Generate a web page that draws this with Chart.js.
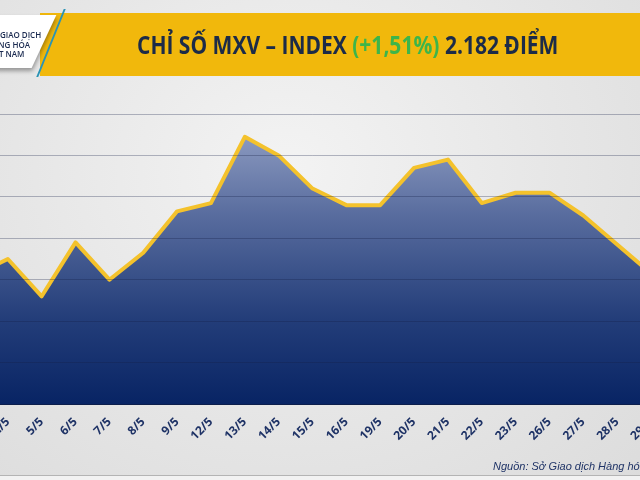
<!DOCTYPE html>
<html lang="vi">
<head>
<meta charset="UTF-8">
<title>Chỉ số MXV - Index</title>
<script src="https://cdn.jsdelivr.net/npm/chart.js"></script>
<style>
    html, body {
        margin: 0;
        padding: 0;
        width: 640px;
        height: 480px;
        overflow: hidden;
    }
    body {
        position: relative;
        background: radial-gradient(ellipse at 45% 35%, #f3f3f3 0%, #e6e6e6 55%, #dcdcdc 100%);
        font-family: "Open Sans", "Liberation Sans", sans-serif;
    }
    #chart-wrap {
        position: absolute;
        left: -26px;
        top: 0;
        width: 677px;
        height: 480px;
    }
    #header {
        position: absolute;
        left: 40px;
        top: 13px;
        width: 600px;
        height: 63px;
        background: #f1b80c;
    }
    #title {
        position: absolute;
        left: 137px;
        top: 27px;
        font-family: "Open Sans", sans-serif;
        font-weight: bold;
        font-size: 25px;
        color: #1c2b48;
        white-space: nowrap;
        transform: scaleX(0.84);
        transform-origin: left center;
    }
    #title .up { color: #3db54a; }
    #logo {
        position: absolute;
        left: -30px;
        top: 15px;
        width: 74px;
        height: 53px;
        background: #fff;
        transform: skewX(-25deg);
        box-shadow: 2px 3px 4px rgba(0,0,0,0.35);
    }
    #logo-line {
        position: absolute;
        left: 50px;
        top: 9px;
        width: 2px;
        height: 68px;
        background: #2a93b5;
        transform: skewX(-22deg);
    }
    #logo-text {
        position: absolute;
        left: -13px;
        top: 30px;
        font-family: "Open Sans", sans-serif;
        font-size: 8px;
        font-weight: 600;
        line-height: 9.5px;
        color: #1a2a50;
        white-space: nowrap;
    }
    #source {
        position: absolute;
        left: 493px;
        top: 460px;
        font-family: "Liberation Sans", sans-serif;
        font-style: italic;
        font-size: 11px;
        color: #1f3366;
        white-space: nowrap;
    }
    #bottom-line {
        position: absolute;
        left: 0;
        top: 475px;
        width: 640px;
        height: 5px;
        border-top: 1px solid #b4b4b4;
        background: #f2f2f2;
    }
</style>
</head>
<body>

<div id="chart-wrap"><canvas id="mxvChart"></canvas></div>

<div id="header"></div>
<div id="logo"></div>
<div id="logo-line"></div>
<div id="logo-text">SỞ GIAO DỊCH<br>HÀNG HÓA<br>VIỆT NAM</div>
<div id="title">CHỈ SỐ MXV – INDEX <span class="up">(+1,51%)</span> 2.182 ĐIỂM</div>

<div id="source">Nguồn: Sở Giao dịch Hàng hóa Việt Nam</div>
<div id="bottom-line"></div>

<script>
    // Ngày giao dịch
    const days = ['29/4', '2/5', '5/5', '6/5', '7/5', '8/5', '9/5', '12/5', '13/5', '14/5',
                  '15/5', '16/5', '19/5', '20/5', '21/5', '22/5', '23/5', '26/5', '27/5', '28/5', '29/5'];

    // Giá trị chỉ số MXV-Index (ước lượng từ hình)
    const indexValues = [2182, 2190, 2172, 2198, 2180, 2193, 2213, 2217, 2249, 2240,
                         2224, 2216, 2216, 2234, 2238, 2217, 2222, 2222, 2211, 2197, 2183];

    // Thang trục tung
    const yMin = 2120;
    const yMax = 2260;
    const yStep = 20;

    function areaFill(context) {
        const area = context.chart.chartArea;
        if (!area) return 'rgb(40,70,130)';
        const g = context.chart.ctx.createLinearGradient(0, area.top, 0, area.bottom);
        g.addColorStop(0, 'rgb(152,165,200)');
        g.addColorStop(0.35, 'rgb(88,108,158)');
        g.addColorStop(0.7, 'rgb(36,62,122)');
        g.addColorStop(1, 'rgb(8,36,100)');
        return g;
    }

    const ctx = document.getElementById('mxvChart').getContext('2d');
    const mxvChart = new Chart(ctx, {
        type: 'line',
        data: {
            labels: days,
            datasets: [{
                data: indexValues,
                borderColor: '#f4c22c',
                borderWidth: 4,
                backgroundColor: areaFill,
                fill: 'start',
                pointRadius: 0,
                tension: 0,
                borderJoinStyle: 'round'
            }]
        },
        options: {
            responsive: true,
            maintainAspectRatio: false,
            animation: false,
            layout: {
                padding: { top: 114, left: 0, right: 0, bottom: 0 }
            },
            plugins: {
                legend: { display: false },
                tooltip: { enabled: false }
            },
            scales: {
                x: {
                    offset: false,
                    grid: { display: false, drawTicks: false },
                    border: { display: true, color: '#0a1f4f', width: 1 },
                    ticks: {
                        autoSkip: false,
                        minRotation: 45,
                        maxRotation: 45,
                        padding: 11,
                        color: '#1f3366',
                        font: { family: 'Open Sans', size: 12, weight: 'bold' }
                    },
                    afterFit: function(scale) {
                        scale.height = 76;
                        scale.paddingLeft = 0;
                        scale.paddingRight = 0;
                    }
                },
                y: {
                    min: yMin,
                    max: yMax,
                    grid: { z: 1, color: 'rgba(20,30,70,0.3)', lineWidth: 1, drawTicks: false },
                    border: { display: false },
                    ticks: { display: false, stepSize: yStep },
                    afterFit: function(scale) {
                        scale.width = 0;
                    }
                }
            }
        }
    });
</script>

</body>
</html>
